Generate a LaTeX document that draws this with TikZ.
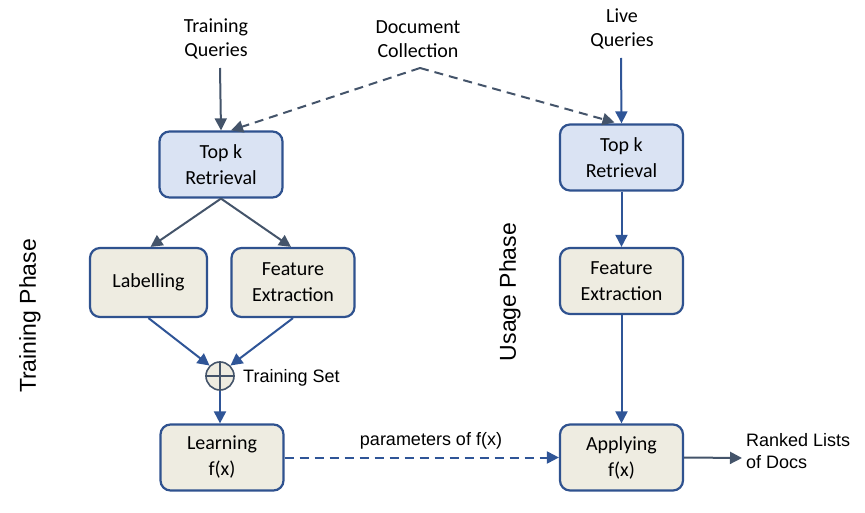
\documentclass[tikz,border=0pt]{standalone}
\usepackage{fontspec}
\setmainfont{Carlito}
\newfontfamily\arialf{Liberation Sans}
\usetikzlibrary{arrows.meta,calc}
\definecolor{bord}{HTML}{2F528F}
\definecolor{bluefill}{HTML}{DAE3F3}
\definecolor{beige}{HTML}{EEECE1}
\definecolor{grayarr}{HTML}{44546A}
\definecolor{bluearr}{HTML}{2F5597}
\tikzset{
  box/.style={draw=bord, line width=2.2pt, rounded corners=10pt, minimum width=123pt, minimum height=66pt, align=center, inner sep=2pt, font=\fontsize{20}{26}\selectfont},
  bluebox/.style={box, fill=bluefill},
  beigebox/.style={box, fill=beige},
  lab/.style={align=center, font=\fontsize{20}{24.5}\selectfont, inner sep=0pt},
  arlab/.style={align=left, font=\arialf\fontsize{18}{22}\selectfont, inner sep=0pt},
  phase/.style={rotate=90, font=\arialf\fontsize{23}{27}\selectfont, inner sep=0pt},
  garr/.style={draw=grayarr, line width=2pt, -{Triangle[length=12pt,width=12pt]}},
  barr/.style={draw=bluearr, line width=2pt, -{Triangle[length=12pt,width=12pt]}},
  dsh/.style={dash pattern=on 9pt off 6pt},
}
\begin{document}
\begin{tikzpicture}[x=1pt,y=-1pt]
\useasboundingbox (0,0) rectangle (865,513);
% labels
\node[lab] (tq) at (216,39) {Training\\Queries};
\node[lab] (dc) at (418,39) {Document\\Collection};
\node[lab] (lq) at (622,29) {Live\\Queries};
\coordinate (tqb) at (220,68);
\coordinate (dcb) at (420,68);
\coordinate (lqb) at (621,58);
% boxes
\node[bluebox] (tkL) at (221,164.5) {Top k\\Retrieval};
\node[bluebox] (tkR) at (621.5,157.5) {Top k\\Retrieval};
\node[beigebox, minimum width=117pt, minimum height=69pt] (lab) at (148.5,282.5) {Labelling};
\node[beigebox, minimum height=69pt] (feL) at (293,282.5) {Feature\\Extraction};
\node[beigebox] (feR) at (621.5,281) {Feature\\Extraction};
\node[beigebox] (lrn) at (222,457.5) {Learning\\f(x)};
\node[beigebox] (app) at (621.5,457.5) {Applying\\f(x)};
% circle plus
\node[circle, draw=grayarr, fill=beige, line width=1.6pt, minimum size=28pt, inner sep=0pt] (ts) at (220,376) {};
\draw[grayarr, line width=1.6pt] (ts.north) -- (ts.south) (ts.west) -- (ts.east);
\node[arlab, anchor=west] (tsl) at (243,378) {Training Set};
% phases
\node[phase] (tp) at (30,316) {Training Phase};
\node[phase] (up) at (510,292) {Usage Phase};
% other labels
\node[arlab] (par) at (431,441) {parameters of f(x)};
\node[arlab, anchor=west] (rl) at (746,451) {Ranked Lists\\of Docs};
\coordinate (rle) at (742,458);
% connectors
\draw[garr] (tqb) -- (tkL.north);
\draw[garr, dsh] (dcb) -- ([xshift=10pt]tkL.north);
\draw[garr, dsh] (dcb) -- ([xshift=-7pt,yshift=1pt]tkR.north);
\draw[barr] (lqb) -- (tkR.north);
\draw[garr] (tkL.south) -- ([xshift=2pt]lab.north);
\draw[garr] (tkL.south) -- ([xshift=-2pt]feL.north);
\draw[barr] (lab.south) -- (ts.north west);
\draw[barr] (feL.south) -- (ts.north east);
\draw[barr] (ts.south) -- ([xshift=-2pt]lrn.north);
\draw[barr, dsh] (lrn.east) -- (app.west);
\draw[barr] (tkR.south) -- (feR.north);
\draw[barr] (feR.south) -- (app.north);
\draw[garr] (app.east) -- (rle);
\end{tikzpicture}
\end{document}
